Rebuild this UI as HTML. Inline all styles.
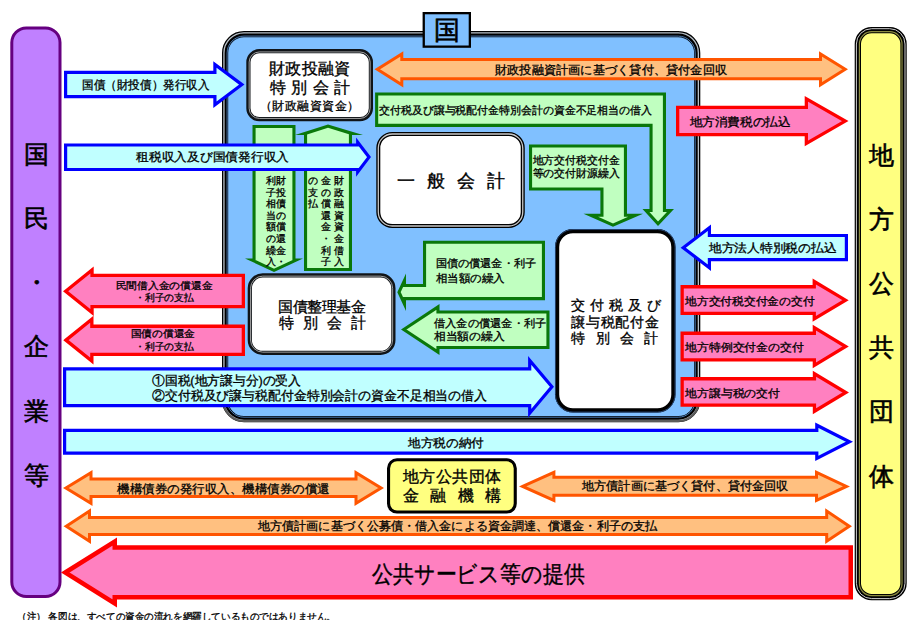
<!DOCTYPE html>
<html lang="ja"><head><meta charset="utf-8"><title>国と地方の資金の流れ</title>
<style>
html,body{margin:0;padding:0;background:#fff;}
body{width:914px;height:620px;overflow:hidden;font-family:"Liberation Sans",sans-serif;}
svg{display:block;}
svg text{font-family:"Liberation Sans",sans-serif;fill:#000;}
</style></head><body>
<svg width="914" height="620" viewBox="0 0 914 620">
<rect width="914" height="620" fill="#fff"/>
<g id="shapes">
<rect x="225.10" y="34.10" width="472.10" height="385.10" rx="18.90" ry="18.90" fill="#80c0ff" stroke="#000" stroke-width="6.2"/>
<rect x="223.95" y="32.95" width="474.40" height="387.40" rx="20.05" ry="20.05" fill="none" stroke="#b8c0c8" stroke-width="1.3"/>
<clipPath id="cb"><rect x="215" y="400" width="490" height="30"/></clipPath>
<g clip-path="url(#cb)"><rect x="223.30" y="32.30" width="475.70" height="388.70" rx="20.70" ry="20.70" fill="none" stroke="#5c5c5c" stroke-width="2.2"/></g>
<rect x="227.10" y="36.10" width="468.10" height="381.10" rx="16.90" ry="16.90" fill="none" stroke="#4878b0" stroke-width="1.0"/>
<rect x="857.85" y="30.15" width="45.70" height="567.00" rx="13.85" ry="13.85" fill="#ffff80" stroke="#000" stroke-width="6.3"/>
<rect x="856.40" y="28.70" width="48.60" height="569.90" rx="15.30" ry="15.30" fill="none" stroke="#d0d0d0" stroke-width="1.0"/>
<rect x="859.40" y="31.70" width="42.60" height="563.90" rx="12.30" ry="12.30" fill="none" stroke="#8c8c40" stroke-width="1.2"/>
<rect x="11.80" y="28.00" width="48.20" height="568.50" rx="14.50" ry="14.50" fill="#c080ff" stroke="#660080" stroke-width="3"/>
<rect x="423.75" y="13.15" width="46.10" height="33.50" rx="0.00" ry="0.00" fill="#80c0ff" stroke="#000" stroke-width="2.3"/>
<rect x="248.40" y="51.20" width="122.50" height="68.00" rx="10.90" ry="10.90" fill="#fff" stroke="#101418" stroke-width="4.2"/>
<rect x="249.15" y="51.95" width="121.00" height="66.50" rx="10.15" ry="10.15" fill="none" stroke="#b0b0b0" stroke-width="0.9"/>
<rect x="378.30" y="134.00" width="144.45" height="92.00" rx="14.00" ry="14.00" fill="#fff" stroke="#000" stroke-width="4.0"/>
<rect x="378.30" y="134.00" width="144.45" height="92.00" rx="14.00" ry="14.00" fill="none" stroke="#c8c8c8" stroke-width="1.3"/>
<rect x="249.80" y="275.40" width="143.60" height="77.50" rx="12.90" ry="12.90" fill="#fff" stroke="#101418" stroke-width="4.2"/>
<rect x="250.55" y="276.15" width="142.10" height="76.00" rx="12.15" ry="12.15" fill="none" stroke="#b0b0b0" stroke-width="0.9"/>
<rect x="557.10" y="231.20" width="116.30" height="179.20" rx="15.90" ry="15.90" fill="#fff" stroke="#000" stroke-width="4.2"/>
<rect x="555.45" y="229.55" width="119.60" height="182.50" rx="17.55" ry="17.55" fill="none" stroke="#284878" stroke-width="0.9"/>
<polygon points="254.05,126.55 293.95,126.55 293.95,260.05 296.00,260.05 274.00,270.29 252.00,260.05 254.05,260.05" fill="#c0ffc0" stroke="#0a780a" stroke-width="3.1" stroke-linejoin="miter" stroke-miterlimit="10" />
<polygon points="304,271 304,135 295,135 328,124.5 363,135 352,135 352,271" fill="#0a780a"/>
<polygon points="307.1,267.9 307.1,134.5 328,127.8 348.9,134.2 348.9,267.9" fill="#c0ffc0"/>
<polygon points="376.65,93.95 664.45,93.95 664.45,210.55 670.41,210.55 658.02,223.72 646.01,210.55 651.05,210.55 651.05,125.35 376.65,125.35" fill="#c0ffc0" stroke="#0a780a" stroke-width="3.1" stroke-linejoin="miter" stroke-miterlimit="10" />
<polygon points="530.55,146.05 625.45,146.05 625.45,215.25 635.58,215.25 613.01,225.11 590.81,215.25 601.95,215.25 601.95,188.95 530.55,188.95" fill="#c0ffc0" stroke="#0a780a" stroke-width="3.1" stroke-linejoin="miter" stroke-miterlimit="10" />
<polygon points="424.55,242.25 543.45,242.25 543.45,298.65 404.45,298.65 404.45,303.96 399.01,292.20 404.45,280.44 404.45,285.55 424.55,285.55" fill="#c0ffc0" stroke="#0a780a" stroke-width="3.1" stroke-linejoin="miter" stroke-miterlimit="10" />
<polygon points="403.81,329.50 437.95,306.89 437.95,312.05 547.95,312.05 547.95,347.45 437.95,347.45 437.95,352.11" fill="#c0ffc0" stroke="#0a780a" stroke-width="3.1" stroke-linejoin="miter" stroke-miterlimit="10" />
<polygon points="377.32,69.30 401.80,53.91 401.80,59.50 820.50,59.50 820.50,53.90 845.17,69.30 820.50,84.70 820.50,78.70 401.80,78.70 401.80,84.69" fill="#ffc080" stroke="#ff5500" stroke-width="3.0" stroke-linejoin="miter" stroke-miterlimit="10" />
<polygon points="65.88,488.00 91.00,472.67 91.00,479.00 356.00,479.00 356.00,472.67 381.12,488.00 356.00,503.33 356.00,496.50 91.00,496.50 91.00,503.33" fill="#ffc080" stroke="#ff5500" stroke-width="3.0" stroke-linejoin="miter" stroke-miterlimit="10" />
<polygon points="522.65,486.40 553.90,472.32 553.90,477.30 816.50,477.30 816.50,472.36 846.46,486.40 816.50,500.44 816.50,495.30 553.90,495.30 553.90,500.48" fill="#ffc080" stroke="#ff5500" stroke-width="3.0" stroke-linejoin="miter" stroke-miterlimit="10" />
<polygon points="66.26,526.15 89.50,511.06 89.50,517.50 826.70,517.50 826.70,511.10 849.29,526.15 826.70,541.20 826.70,534.50 89.50,534.50 89.50,541.24" fill="#ffc080" stroke="#ff5500" stroke-width="3.0" stroke-linejoin="miter" stroke-miterlimit="10" />
<polygon points="65.63,291.25 92.05,269.95 92.05,275.35 243.35,275.35 243.35,306.65 92.05,306.65 92.05,312.55" fill="#ff80c0" stroke="#ff0000" stroke-width="3.3" stroke-linejoin="miter" stroke-miterlimit="10" />
<polygon points="65.93,340.15 91.85,319.25 91.85,326.25 243.35,326.25 243.35,354.35 91.85,354.35 91.85,361.05" fill="#ff80c0" stroke="#ff0000" stroke-width="3.3" stroke-linejoin="miter" stroke-miterlimit="10" />
<polygon points="677.65,107.35 806.35,107.35 806.35,98.85 845.18,121.10 806.35,143.35 806.35,134.65 677.65,134.65" fill="#ff80c0" stroke="#ff0000" stroke-width="3.3" stroke-linejoin="miter" stroke-miterlimit="10" />
<polygon points="682.15,286.75 814.25,286.75 814.25,281.51 845.49,300.20 814.25,318.89 814.25,313.35 682.15,313.35" fill="#ff80c0" stroke="#ff0000" stroke-width="3.3" stroke-linejoin="miter" stroke-miterlimit="10" />
<polygon points="682.15,333.25 814.35,333.25 814.35,327.62 845.61,346.50 814.35,365.38 814.35,359.95 682.15,359.95" fill="#ff80c0" stroke="#ff0000" stroke-width="3.3" stroke-linejoin="miter" stroke-miterlimit="10" />
<polygon points="682.15,378.75 814.45,378.75 814.45,373.71 845.79,392.50 814.45,411.29 814.45,405.05 682.15,405.05" fill="#ff80c0" stroke="#ff0000" stroke-width="3.3" stroke-linejoin="miter" stroke-miterlimit="10" />
<polygon points="65.25,572.50 114.75,541.56 114.75,547.55 850.75,547.55 850.75,597.35 114.75,597.35 114.75,603.44" fill="#ff80c0" stroke="#ff0000" stroke-width="4.5" stroke-linejoin="miter" stroke-miterlimit="10" />
<polygon points="65.60,72.40 214.90,72.40 214.90,64.40 241.83,84.60 214.90,104.80 214.90,96.60 65.60,96.60" fill="#c0ffff" stroke="#0000ff" stroke-width="3.2" stroke-linejoin="miter" stroke-miterlimit="10" />
<polygon points="65.60,145.00 357.70,145.00 357.70,142.25 368.99,157.10 357.70,171.95 357.70,169.50 65.60,169.50" fill="#c0ffff" stroke="#0000ff" stroke-width="3.2" stroke-linejoin="miter" stroke-miterlimit="10" />
<polygon points="64.60,368.80 529.70,368.80 529.70,360.39 551.91,386.80 529.70,413.21 529.70,405.60 64.60,405.60" fill="#c0ffff" stroke="#0000ff" stroke-width="3.2" stroke-linejoin="miter" stroke-miterlimit="10" />
<polygon points="64.60,430.40 816.80,430.40 816.80,425.21 849.47,441.80 816.80,458.39 816.80,453.20 64.60,453.20" fill="#c0ffff" stroke="#0000ff" stroke-width="3.2" stroke-linejoin="miter" stroke-miterlimit="10" />
<polygon points="683.23,247.70 709.40,227.64 709.40,235.50 846.40,235.50 846.40,259.70 709.40,259.70 709.40,267.76" fill="#c0ffff" stroke="#0000ff" stroke-width="3.2" stroke-linejoin="miter" stroke-miterlimit="10" />
<rect x="388.55" y="459.75" width="126.70" height="52.30" rx="8.45" ry="8.45" fill="#ffff80" stroke="#000" stroke-width="3.1"/>
</g>
<g id="labels">
<text x="36" y="162.8" font-size="25" text-anchor="middle" font-weight="normal" stroke="#000" stroke-width="0.6">国</text>
<text x="36" y="227" font-size="25" text-anchor="middle" font-weight="normal" stroke="#000" stroke-width="0.6">民</text>
<text x="36" y="291.2" font-size="25" text-anchor="middle" font-weight="normal" stroke="#000" stroke-width="0.6">・</text>
<text x="36" y="355.2" font-size="25" text-anchor="middle" font-weight="normal" stroke="#000" stroke-width="0.6">企</text>
<text x="36" y="419.6" font-size="25" text-anchor="middle" font-weight="normal" stroke="#000" stroke-width="0.6">業</text>
<text x="36" y="483.8" font-size="25" text-anchor="middle" font-weight="normal" stroke="#000" stroke-width="0.6">等</text>
<text x="881" y="163.6" font-size="25" text-anchor="middle" font-weight="normal" stroke="#000" stroke-width="0.6">地</text>
<text x="881" y="228" font-size="25" text-anchor="middle" font-weight="normal" stroke="#000" stroke-width="0.6">方</text>
<text x="881" y="292" font-size="25" text-anchor="middle" font-weight="normal" stroke="#000" stroke-width="0.6">公</text>
<text x="881" y="356" font-size="25" text-anchor="middle" font-weight="normal" stroke="#000" stroke-width="0.6">共</text>
<text x="881" y="420.4" font-size="25" text-anchor="middle" font-weight="normal" stroke="#000" stroke-width="0.6">団</text>
<text x="881" y="484.6" font-size="25" text-anchor="middle" font-weight="normal" stroke="#000" stroke-width="0.6">体</text>
<text x="447" y="38.5" font-size="26" text-anchor="middle" font-weight="normal" stroke="#000" stroke-width="0.6">国</text>
<text x="82.00" y="89.18" font-size="11.62" font-weight="normal" textLength="127.50" lengthAdjust="spacingAndGlyphs" stroke="#000" stroke-width="0.3">国債（財投債）発行収入</text>
<text x="136.00" y="161.35" font-size="12.09" font-weight="normal" textLength="153.00" lengthAdjust="spacingAndGlyphs" stroke="#000" stroke-width="0.3">租税収入及び国債発行収入</text>
<text x="495.00" y="73.85" font-size="12.09" font-weight="normal" textLength="232.00" lengthAdjust="spacingAndGlyphs" stroke="#000" stroke-width="0.3">財政投融資計画に基づく貸付、貸付金回収</text>
<text x="379.00" y="113.85" font-size="10.7" font-weight="normal" textLength="273.00" lengthAdjust="spacingAndGlyphs" stroke="#000" stroke-width="0.3">交付税及び譲与税配付金特別会計の資金不足相当の借入</text>
<text x="532.50" y="164.35" font-size="10.7" font-weight="normal" textLength="87.00" lengthAdjust="spacingAndGlyphs" stroke="#000" stroke-width="0.3">地方交付税交付金</text>
<text x="532.50" y="176.85" font-size="10.7" font-weight="normal" textLength="87.00" lengthAdjust="spacingAndGlyphs" stroke="#000" stroke-width="0.3">等の交付財源繰入</text>
<text x="689.50" y="126.35" font-size="12.09" font-weight="normal" textLength="101.00" lengthAdjust="spacingAndGlyphs" stroke="#000" stroke-width="0.3">地方消費税の払込</text>
<text x="708.75" y="251.85" font-size="12.09" font-weight="normal" textLength="127.50" lengthAdjust="spacingAndGlyphs" stroke="#000" stroke-width="0.3">地方法人特別税の払込</text>
<text x="685.00" y="304.52" font-size="11.16" font-weight="normal" textLength="129.50" lengthAdjust="spacingAndGlyphs" stroke="#000" stroke-width="0.3">地方交付税交付金の交付</text>
<text x="685.00" y="351.02" font-size="11.16" font-weight="normal" textLength="118.75" lengthAdjust="spacingAndGlyphs" stroke="#000" stroke-width="0.3">地方特例交付金の交付</text>
<text x="685.00" y="396.52" font-size="11.16" font-weight="normal" textLength="95.00" lengthAdjust="spacingAndGlyphs" stroke="#000" stroke-width="0.3">地方譲与税の交付</text>
<text x="435.50" y="267.02" font-size="11.16" font-weight="normal" textLength="100.75" lengthAdjust="spacingAndGlyphs" stroke="#000" stroke-width="0.3">国債の償還金・利子</text>
<text x="435.50" y="282.02" font-size="11.16" font-weight="normal" textLength="69.00" lengthAdjust="spacingAndGlyphs" stroke="#000" stroke-width="0.3">相当額の繰入</text>
<text x="433.75" y="327.02" font-size="11.16" font-weight="normal" textLength="112.50" lengthAdjust="spacingAndGlyphs" stroke="#000" stroke-width="0.3">借入金の償還金・利子</text>
<text x="433.75" y="339.52" font-size="11.16" font-weight="normal" textLength="70.75" lengthAdjust="spacingAndGlyphs" stroke="#000" stroke-width="0.3">相当額の繰入</text>
<text x="115.50" y="288.68" font-size="10.23" font-weight="normal" textLength="97.00" lengthAdjust="spacingAndGlyphs" stroke="#000" stroke-width="0.3">民間借入金の償還金</text>
<text x="135.00" y="300.68" font-size="10.23" font-weight="normal" textLength="58.75" lengthAdjust="spacingAndGlyphs" stroke="#000" stroke-width="0.3">・利子の支払</text>
<text x="130.80" y="337.38" font-size="10.23" font-weight="normal" textLength="64.20" lengthAdjust="spacingAndGlyphs" stroke="#000" stroke-width="0.3">国債の償還金</text>
<text x="135.00" y="349.68" font-size="10.23" font-weight="normal" textLength="58.75" lengthAdjust="spacingAndGlyphs" stroke="#000" stroke-width="0.3">・利子の支払</text>
<text x="152.00" y="384.68" font-size="13" font-weight="normal" textLength="149.00" lengthAdjust="spacingAndGlyphs" stroke="#000" stroke-width="0.31">①国税(地方譲与分)の受入</text>
<text x="152.00" y="399.68" font-size="13" font-weight="normal" textLength="335.00" lengthAdjust="spacingAndGlyphs" stroke="#000" stroke-width="0.31">②交付税及び譲与税配付金特別会計の資金不足相当の借入</text>
<text x="408.00" y="446.85" font-size="12.09" font-weight="normal" textLength="75.75" lengthAdjust="spacingAndGlyphs" stroke="#000" stroke-width="0.3">地方税の納付</text>
<text x="117.00" y="492.85" font-size="12.09" font-weight="normal" textLength="213.00" lengthAdjust="spacingAndGlyphs" stroke="#000" stroke-width="0.3">機構債券の発行収入、機構債券の償還</text>
<text x="582.00" y="490.18" font-size="11.62" font-weight="normal" textLength="206.50" lengthAdjust="spacingAndGlyphs" stroke="#000" stroke-width="0.3">地方債計画に基づく貸付、貸付金回収</text>
<text x="258.00" y="530.18" font-size="11.62" font-weight="normal" textLength="399.00" lengthAdjust="spacingAndGlyphs" stroke="#000" stroke-width="0.3">地方債計画に基づく公募債・借入金による資金調達、償還金・利子の支払</text>
<text x="372.00" y="581.60" font-size="22.5" font-weight="normal" textLength="212.50" lengthAdjust="spacingAndGlyphs" stroke="#000" stroke-width="0.42">公共サービス等の提供</text>
<text x="17.00" y="619.88" font-size="10.23" font-weight="normal" textLength="319.00" lengthAdjust="spacingAndGlyphs" stroke="#000" stroke-width="0.3">（注） 各図は、すべての資金の流れを網羅しているものではありません。</text>
<text x="269.00" y="73.58" font-size="15.5" font-weight="normal" textLength="81.40" lengthAdjust="spacing" stroke="#000" stroke-width="0.34">財政投融資</text>
<text x="270.00" y="92.88" font-size="15.5" font-weight="normal" textLength="80.00" lengthAdjust="spacing" stroke="#000" stroke-width="0.34">特 別 会 計</text>
<text x="260.00" y="109.62" font-size="12" font-weight="normal" textLength="99.00" lengthAdjust="spacing" stroke="#000" stroke-width="0.29">（財政融資資金）</text>
<text x="397.00" y="187.00" font-size="17.5" font-weight="normal" textLength="108.00" lengthAdjust="spacing" stroke="#000" stroke-width="0.36">一 般 会 計</text>
<text x="278.00" y="312.22" font-size="14.5" font-weight="normal" textLength="87.50" lengthAdjust="spacing" stroke="#000" stroke-width="0.32">国債整理基金</text>
<text x="278.50" y="328.22" font-size="14.5" font-weight="normal" textLength="87.00" lengthAdjust="spacing" stroke="#000" stroke-width="0.32">特 別 会 計</text>
<text x="571.30" y="309.54" font-size="14" font-weight="normal" textLength="89.70" lengthAdjust="spacing" stroke="#000" stroke-width="0.32">交 付 税 及 び</text>
<text x="571.30" y="327.04" font-size="14" font-weight="normal" textLength="87.20" lengthAdjust="spacing" stroke="#000" stroke-width="0.32">譲与税配付金</text>
<text x="571.30" y="342.74" font-size="14" font-weight="normal" textLength="86.70" lengthAdjust="spacing" stroke="#000" stroke-width="0.32">特 別 会 計</text>
<text x="403.00" y="481.58" font-size="15.5" font-weight="normal" textLength="98.25" lengthAdjust="spacing" stroke="#000" stroke-width="0.34">地方公共団体</text>
<text x="403.00" y="501.08" font-size="15.5" font-weight="normal" textLength="98.25" lengthAdjust="spacing" stroke="#000" stroke-width="0.34">金 融 機 構</text>
<text x="280.8 280.8 280.8 280.8 280.8 280.8 280.8 280.8" y="184.0 195.6 207.2 218.8 230.4 242.0 253.6 265.2" font-size="9.7" text-anchor="middle" font-weight="normal" stroke="#000" stroke-width="0.3">財投債の償還金・</text>
<text x="271 271 271 271 271 271 271 271" y="184.0 195.6 207.2 218.8 230.4 242.0 253.6 265.2" font-size="9.7" text-anchor="middle" font-weight="normal" stroke="#000" stroke-width="0.3">利子相当額の繰入</text>
<text x="339 339 339 339 339 339 339 339" y="184.0 195.6 207.2 218.8 230.4 242.0 253.6 265.2" font-size="9.7" text-anchor="middle" font-weight="normal" stroke="#000" stroke-width="0.3">財政融資資金借入</text>
<text x="326 326 326 326 326 326 326 326" y="184.0 195.6 207.2 218.8 230.4 242.0 253.6 265.2" font-size="9.7" text-anchor="middle" font-weight="normal" stroke="#000" stroke-width="0.3">金の償還金・利子</text>
<text x="312.5 312.5 312.5" y="184.0 195.6 207.2" font-size="9.7" text-anchor="middle" font-weight="normal" stroke="#000" stroke-width="0.3">の支払</text>
</g>
</svg>
</body></html>
